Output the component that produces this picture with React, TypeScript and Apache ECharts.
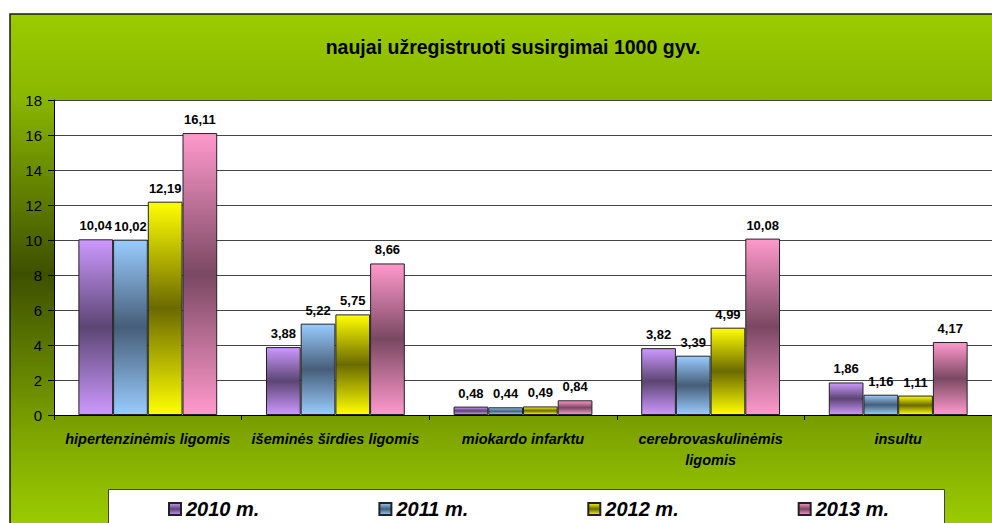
import React, { useEffect, useRef } from "react";
import * as echarts from "echarts";

const categories = [
  "hipertenzinėmis ligomis",
  "išeminės širdies ligomis",
  "miokardo infarktu",
  "cerebrovaskulinėmis ligomis",
  "insultu",
];
const wrappedCategory = "cerebrovaskulinėmis ligomis";
const seriesNames = ["2010 m.", "2011 m.", "2012 m.", "2013 m."];
const values2010 = [10.04, 3.88, 0.48, 3.82, 1.86];
const values2011 = [10.02, 5.22, 0.44, 3.39, 1.16];
const values2012 = [12.19, 5.75, 0.49, 4.99, 1.11];
const values2013 = [16.11, 8.66, 0.84, 10.08, 4.17];
const allValues = [values2010, values2011, values2012, values2013];
const lightColors = ["#cc99ff", "#99ccff", "#ffff00", "#ff99cc"];
const darkColors = ["#5c4573", "#465e78", "#6b6a00", "#7a4862"];

const FONT = "'Liberation Sans', Arial, sans-serif";

export default function App() {
  const ref = useRef<HTMLDivElement>(null);
  useEffect(() => {
    if (!ref.current) return;
    const chart = echarts.init(ref.current, undefined, { renderer: "svg" });
    const grad = (i: number) =>
      new echarts.graphic.LinearGradient(0, 0, 0, 1, [
        { offset: 0, color: lightColors[i] },
        { offset: 0.5, color: darkColors[i] },
        { offset: 1, color: lightColors[i] },
      ]);
    const option: any = {
      animation: false,
      backgroundColor: "#ffffff",
      title: {
        text: "naujai užregistruoti susirgimai 1000 gyv.",
        left: 508,
        top: 32,
        textAlign: "center",
        textStyle: { fontFamily: FONT, fontSize: 19.5, fontWeight: "bold", color: "#000" },
      },
      graphic: [
        {
          type: "rect",
          z: -10,
          shape: { x: 10, y: 14, width: 1000, height: 520 },
          style: {
            fill: new echarts.graphic.LinearGradient(0, 0, 0, 1, [
              { offset: 0, color: "#9acc00" },
              { offset: 0.16, color: "#8ab700" },
              { offset: 0.5, color: "#3e5000" },
              { offset: 0.82, color: "#80a800" },
              { offset: 1, color: "#9dd000" },
            ]),
            stroke: "#1a1a1a",
            lineWidth: 1.5,
          },
        },
        {
          type: "rect",
          z: -5,
          shape: { x: 108.5, y: 489.5, width: 836, height: 60 },
          style: { fill: "#ffffff", stroke: "#444", lineWidth: 1 },
        },
      ],
      legend: {
        data: seriesNames,
        left: 163,
        top: 494,
        itemWidth: 12,
        itemHeight: 12,
        itemGap: 119,
        icon: "rect",
        textStyle: { fontFamily: FONT, fontSize: 20, fontWeight: "bold", fontStyle: "italic", color: "#000" },
      },
      grid: {
        left: 54,
        right: 0,
        top: 100,
        bottom: 108,
        show: true,
        backgroundColor: "#ffffff",
        borderWidth: 0,
      },
      xAxis: {
        type: "category",
        data: categories,
        axisLine: { lineStyle: { color: "#000", width: 1 } },
        axisTick: { show: true, length: 5, lineStyle: { color: "#000" } },
        axisLabel: {
          interval: 0,
          margin: 13,
          lineHeight: 21,
          fontFamily: FONT,
          fontSize: 14.5,
          fontWeight: "bold",
          fontStyle: "italic",
          color: "#000",
          formatter: (v: string) => (v === wrappedCategory ? v.replace(" ", "\n") : v),
        },
      },
      yAxis: {
        type: "value",
        min: 0,
        max: 18,
        interval: 2,
        axisLine: { show: true, lineStyle: { color: "#000", width: 1 } },
        axisTick: { show: true, length: 6, lineStyle: { color: "#000" } },
        axisLabel: { margin: 12, fontFamily: FONT, fontSize: 15, color: "#000" },
        splitLine: { lineStyle: { color: "#444", width: 1 } },
      },
      series: seriesNames.map((name, i) => ({
        name,
        type: "bar",
        data: allValues[i],
        barGap: "0%",
        barCategoryGap: "26%",
        itemStyle: { color: grad(i), borderColor: "#222", borderWidth: 1 },
        label: {
          show: true,
          position: "top",
          distance: 7,
          fontFamily: FONT,
          fontSize: 13,
          fontWeight: "bold",
          color: "#000",
          formatter: (p: any) => String(p.value.toFixed(2)).replace(".", ","),
        },
      })),
    };
    chart.setOption(option);
    return () => chart.dispose();
  }, []);
  return (
    <div
      ref={ref}
      style={{ position: "absolute", left: 0, top: 0, width: 992, height: 523 }}
    />
  );
}
